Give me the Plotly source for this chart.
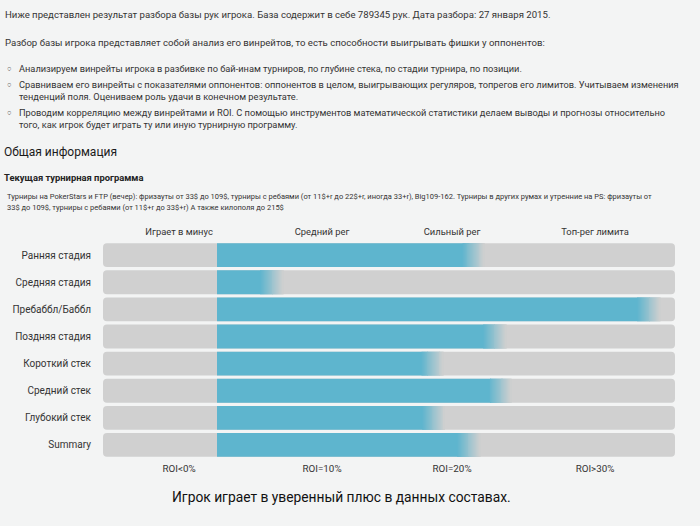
import plotly.graph_objects as go

# ---------------- data ----------------
categories = ["Ранняя стадия", "Средняя стадия", "Пребаббл/Баббл", "Поздняя стадия",
              "Короткий стек", "Средний стек", "Глубокий стек", "Summary"]
roi_values = [21.65, 6.15, 35.15, 23.3, 18.5, 23.7, 18.6, 21.3]   # end of blue bar (ROI %)
bar_base = 1.92                                                   # blue bars start here
track_min, track_max = -6.85, 37.15
roi_tickvals = [-1, 10, 20, 31]
roi_ticktext = ["ROI<0%", "ROI=10%", "ROI=20%", "ROI>30%"]
level_ticktext = ["Играет в минус", "Средний рег", "Сильный рег", "Топ-рег лимита"]

intro_lines = [
    "Ниже представлен результат разбора базы рук игрока. База содержит в себе 789345 рук. Дата разбора: 27 января 2015.",
    "Разбор базы игрока представляет собой анализ его винрейтов, то есть способности выигрывать фишки у оппонентов:",
]
bullets = [
    ["Анализируем винрейты игрока в разбивке по бай-инам турниров, по глубине стека, по стадии турнира, по позиции."],
    ["Сравниваем его винрейты с показателями оппонентов: оппонентов в целом, выигрывающих регуляров, топрегов его лимитов. Учитываем изменения",
     "тенденций поля. Оцениваем роль удачи в конечном результате."],
    ["Проводим корреляцию между винрейтами и ROI. С помощью инструментов математической статистики делаем выводы и прогнозы относительно",
     "того, как игрок будет играть ту или иную турнирную программу."],
]
heading = "Общая информация"
subheading = "Текущая турнирная программа"
program_lines = [
    "Турниры на PokerStars и FTP (вечер): фризауты от 33$ до 109$, турниры с ребаями (от 11$+r до 22$+r, иногда 33+r), Big109-162. Турниры в других румах и утренние на PS: фризауты от",
    "33$ до 109$, турниры с ребаями (от 11$+r до 33$+r) А также килополя до 215$",
]
conclusion = "Игрок играет в уверенный плюс в данных составах."

# ---------------- style ----------------
W, H = 700, 526
BG = "#f3f4f4"
BLUE = (94, 181, 206)
GRAY = (208, 208, 208)
FONT = "Roboto"
TXT = "#333333"
FADE = 1.7
NSEG = 24

def px(x):
    return x / W

def py(y):
    return 1 - y / H

fig = go.Figure()

# grey tracks
fig.add_trace(go.Bar(
    y=categories, x=[track_max - track_min] * len(categories), base=[track_min] * len(categories),
    orientation="h", marker=dict(color="rgb(%d,%d,%d)" % GRAY, cornerradius=4, line=dict(width=0)),
    hoverinfo="skip", showlegend=False))

# blue solid part
fig.add_trace(go.Bar(
    y=categories, x=[v - FADE / 2 - bar_base for v in roi_values], base=[bar_base] * len(categories),
    orientation="h", marker=dict(color="rgb(%d,%d,%d)" % BLUE, line=dict(width=0)),
    showlegend=False, hovertemplate="%{y}: %{customdata}%<extra></extra>", customdata=roi_values))

# fade segments (gradient from blue to grey)
for i in range(NSEG):
    t = (i + 0.5) / NSEG
    c = tuple(int(BLUE[k] + (GRAY[k] - BLUE[k]) * t) for k in range(3))
    fig.add_trace(go.Bar(
        y=categories, x=[FADE / NSEG * 1.05] * len(categories),
        base=[v - FADE / 2 + FADE * i / NSEG for v in roi_values],
        orientation="h", marker=dict(color="rgb(%d,%d,%d)" % c, line=dict(width=0)),
        hoverinfo="skip", showlegend=False))

# invisible trace for top axis
fig.add_trace(go.Scatter(x=[track_min, track_max], y=[categories[0], categories[0]], xaxis="x2",
                         mode="markers", marker=dict(opacity=0), hoverinfo="skip", showlegend=False))

ann = []
def text(x, y, s, size=9.6, color=TXT, anchor="left", bold=False, family=FONT):
    ann.append(dict(x=px(x), y=py(y), xref="paper", yref="paper", text=("<b>%s</b>" % s) if bold else s,
                    showarrow=False, xanchor=anchor, yanchor="middle",
                    font=dict(family=family, size=size, color=color)))

text(3, 15, intro_lines[0])
text(3, 43, intro_lines[1])
by = [[68], [84, 97], [112, 125]]
for b, ys in zip(bullets, by):
    text(5, ys[0], "○", size=7.5)
    for line, yy in zip(b, ys):
        text(17, yy, line, size=9.25)
text(2, 152, heading, size=12, color="#1a1a1a")
text(2, 177, subheading, size=9.4, color="#222222", bold=True)
text(5, 196, program_lines[0], size=7.5)
text(5, 207, program_lines[1], size=7.5)
text(341, 497, conclusion, size=13.8, color="#111111", anchor="center")

fig.update_layout(
    width=W, height=H, margin=dict(l=0, r=0, t=0, b=0),
    paper_bgcolor=BG, plot_bgcolor=BG,
    barmode="overlay", bargap=0.12,
    annotations=ann,
    xaxis=dict(domain=[px(103), px(675)], range=[track_min, track_max], showgrid=False, zeroline=False,
               tickvals=roi_tickvals, ticktext=roi_ticktext, ticks="", ticklabelstandoff=3,
               tickfont=dict(family=FONT, size=9.8, color=TXT), fixedrange=True),
    xaxis2=dict(domain=[px(103), px(675)], range=[track_min, track_max], overlaying="x", side="top",
                anchor="y", showgrid=False, zeroline=False,
                tickvals=roi_tickvals, ticktext=level_ticktext, ticks="", ticklabelstandoff=3,
                tickfont=dict(family=FONT, size=9.4, color=TXT), fixedrange=True),
    yaxis=dict(domain=[py(458.5), py(240.5)], autorange="reversed", showgrid=False, zeroline=False,
               ticks="", ticklabelstandoff=11, tickfont=dict(family=FONT, size=10, color=TXT),
               fixedrange=True),
)

fig.write_html("out.html", config={"displayModeBar": False},
               post_script="document.body.style.margin='0';document.body.style.background='%s';" % BG)
